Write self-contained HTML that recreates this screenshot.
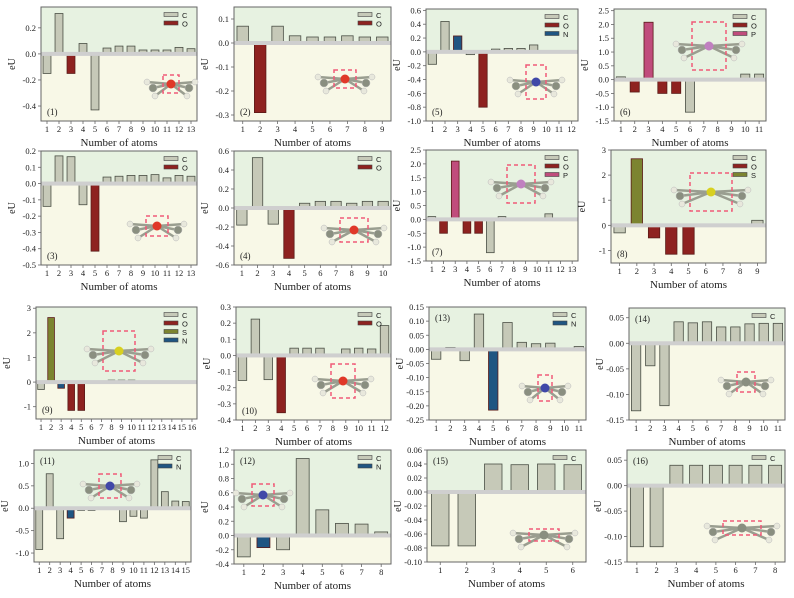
<!DOCTYPE html>
<html><head><meta charset="utf-8"><style>
body{margin:0;background:#fff;}
svg{display:block;font-family:"Liberation Serif",serif;}
</style></head><body>
<svg id="fig" width="794" height="598" viewBox="0 0 794 598"></svg>
<script>
// ---- data ----
const types1=["C","C","O","C","C","C","C","C","C","C","C","C","C"];
const vals1=[-0.15,0.31,-0.15,0.08,-0.43,0.045,0.06,0.06,0.03,0.03,0.03,0.05,0.04];
const types2=["C","O","C","C","C","C","C","C","C"];
const vals2=[0.07,-0.29,0.07,0.03,0.025,0.025,0.03,0.025,0.025];
const types5=["C","C","N","C","O","C","C","C","C","C","C","C"];
const vals5=[-0.18,0.44,0.23,-0.04,-0.80,0.04,0.05,0.05,0.10,0,0,0];
const types6=["C","O","P","O","O","C","C","C","C","C","C"];
const vals6=[0.1,-0.45,2.08,-0.5,-0.5,-1.18,0,0,0,0.2,0.2];
const types3=["C","C","C","C","O","C","C","C","C","C","C","C","C"];
const vals3=[-0.14,0.17,0.165,-0.13,-0.415,0.04,0.045,0.05,0.05,0.055,0.035,0.05,0.045];
const types4=["C","C","C","O","C","C","C","C","C","C"];
const vals4=[-0.18,0.53,-0.17,-0.53,0.05,0.07,0.07,0.05,0.07,0.07];
const types7=["C","O","P","O","O","C","C","C","C","C","C","C","C"];
const vals7=[0.1,-0.5,2.1,-0.5,-0.5,-1.2,0.1,0,0,0,0.2,0,0];
const types8=["C","S","O","O","O","C","C","C","C"];
const vals8=[-0.3,2.65,-0.5,-1.15,-1.15,0.03,0.03,0.03,0.2];
const types9=["C","S","N","O","O","C","C","C","C","C","C","C","C","C","C","C"];
const vals9=[-0.3,2.62,-0.25,-1.15,-1.15,0.02,0.02,0.08,0.08,0.08,0.03,0.03,0.03,0.03,0.03,0.03];
const types10=["C","C","C","O","C","C","C","C","C","C","C","C"];
const vals10=[-0.155,0.225,-0.15,-0.355,0.045,0.045,0.045,0,0.04,0.045,0.04,0.185];
const types13=["C","C","C","C","N","C","C","C","C","C","C"];
const vals13=[-0.035,0.007,-0.04,0.125,-0.215,0.095,0.025,0.02,0.022,0,0.01];
const types14=["C","C","C","C","C","C","C","C","C","C","C"];
const vals14=[-0.132,-0.044,-0.122,0.042,0.04,0.042,0.032,0.032,0.038,0.039,0.039];
const types11=["C","C","C","N","C","C","C","C","C","C","C","C","C","C","C"];
const vals11=[-0.92,0.77,-0.68,-0.22,-0.05,-0.05,0,0.02,-0.3,-0.18,-0.22,1.08,0.37,0.16,0.15];
const types12=["C","N","C","C","C","C","C","C"];
const vals12=[-0.3,-0.17,-0.2,1.08,0.36,0.17,0.16,0.05];
const types15=["C","C","C","C","C","C"];
const vals15=[-0.077,-0.077,0.04,0.039,0.04,0.039];
const types16=["C","C","C","C","C","C","C","C"];
const vals16=[-0.12,-0.12,0.04,0.04,0.04,0.04,0.04,0.04];
const ticks1=[0.2,0.0,-0.2,-0.4], ticks2=[0.1,0.0,-0.1,-0.2,-0.3];
const ticks5=[0.6,0.4,0.2,0.0,-0.2,-0.4,-0.6,-0.8,-1.0], ticks6=[2.5,2.0,1.5,1.0,0.5,0.0,-0.5,-1.0,-1.5];
const ticks3=[0.2,0.1,0.0,-0.1,-0.2,-0.3,-0.4,-0.5], ticks4=[0.6,0.4,0.2,0.0,-0.2,-0.4,-0.6];
const ticks7=[2.5,2.0,1.5,1.0,0.5,0.0,-0.5,-1.0,-1.5], ticks8=[3,2,1,0,-1];
const ticks9=[3,2,1,0,-1], ticks10=[0.3,0.2,0.1,0.0,-0.1,-0.2,-0.3,-0.4];
const ticks13=[0.15,0.10,0.05,0.00,-0.05,-0.10,-0.15,-0.20,-0.25], ticks14=[0.05,0.00,-0.05,-0.10,-0.15];
const ticks11=[1.0,0.5,0.0,-0.5,-1.0], ticks12=[1.2,1.0,0.8,0.6,0.4,0.2,0.0,-0.2,-0.4];
const ticks15=[0.06,0.04,0.02,0.00,-0.02,-0.04,-0.06,-0.08,-0.10], ticks16=[0.05,0.00,-0.05,-0.10,-0.15];

const colors={C:"#c6c9b8",O:"#8e2220",N:"#1f5582",P:"#c04c7c",S:"#7c8430"};
const NS="http://www.w3.org/2000/svg";
const svg=document.getElementById("fig");
function mk(tag,attrs,parent){const e=document.createElementNS(NS,tag);for(const k in attrs)e.setAttribute(k,attrs[k]);(parent||svg).appendChild(e);return e;}

const panels=[
 {n:1,x0:41,x1:197,y0:7,y1:121,ymax:0.36,ymin:-0.515,t:types1,v:vals1,tk:ticks1,d:1,lg:["C","O"],top:false,mol:[163,75,16,18],c:"#e03828"},
 {n:2,x0:234,x1:391,y0:7,y1:121,ymax:0.15,ymin:-0.325,t:types2,v:vals2,tk:ticks2,d:1,lg:["C","O"],top:false,mol:[334,70,22,18],c:"#e03828"},
 {n:5,x0:426,x1:578,y0:9,y1:121,ymax:0.62,ymin:-1.0,t:types5,v:vals5,tk:ticks5,d:1,lg:["C","O","N"],top:false,mol:[526,65,20,34],c:"#4048a8"},
 {n:6,x0:614,x1:766,y0:9,y1:121,ymax:2.56,ymin:-1.5,t:types6,v:vals6,tk:ticks6,d:1,lg:["C","O","P"],top:false,mol:[692,22,34,48],c:"#c080c0"},
 {n:3,x0:41,x1:197,y0:151,y1:265,ymax:0.2,ymin:-0.5,t:types3,v:vals3,tk:ticks3,d:1,lg:["C","O"],top:false,mol:[146,216,22,20],c:"#e03828"},
 {n:4,x0:234,x1:391,y0:151,y1:265,ymax:0.6,ymin:-0.6,t:types4,v:vals4,tk:ticks4,d:1,lg:["C","O"],top:false,mol:[340,218,28,24],c:"#e03828"},
 {n:7,x0:426,x1:578,y0:150,y1:261,ymax:2.5,ymin:-1.5,t:types7,v:vals7,tk:ticks7,d:1,lg:["C","O","P"],top:false,mol:[507,165,28,38],c:"#c080c0"},
 {n:8,x0:611,x1:766,y0:150,y1:263,ymax:3,ymin:-1.5,t:types8,v:vals8,tk:ticks8,d:0,lg:["C","O","S"],top:false,mol:[690,173,42,38],c:"#d8d020"},
 {n:9,x0:36,x1:197,y0:307,y1:419,ymax:3.05,ymin:-1.5,t:types9,v:vals9,tk:ticks9,d:0,lg:["C","O","S","N"],top:false,mol:[103,331,32,40],c:"#d8d020"},
 {n:10,x0:236,x1:391,y0:307,y1:420,ymax:0.3,ymin:-0.4,t:types10,v:vals10,tk:ticks10,d:1,lg:["C","O"],top:false,mol:[331,364,24,34],c:"#e03828"},
 {n:13,x0:429,x1:586,y0:307,y1:420,ymax:0.15,ymin:-0.25,t:types13,v:vals13,tk:ticks13,d:2,lg:["C","N"],top:true,mol:[538,375,14,26],c:"#4048a8"},
 {n:14,x0:629,x1:785,y0:308,y1:420,ymax:0.069,ymin:-0.15,t:types14,v:vals14,tk:ticks14,d:2,lg:["C"],top:true,mol:[737,372,18,20],c:"#8a8f80"},
 {n:11,x0:34,x1:191,y0:450,y1:562,ymax:1.3,ymin:-1.2,t:types11,v:vals11,tk:ticks11,d:1,lg:["C","N"],top:true,mol:[99,474,22,24],c:"#4048a8"},
 {n:12,x0:234,x1:391,y0:450,y1:564,ymax:1.2,ymin:-0.4,t:types12,v:vals12,tk:ticks12,d:1,lg:["C","N"],top:true,mol:[252,484,22,22],c:"#4048a8"},
 {n:15,x0:427,x1:586,y0:450,y1:562,ymax:0.06,ymin:-0.1,t:types15,v:vals15,tk:ticks15,d:2,lg:["C"],top:true,mol:[529,529,30,12],c:"#8a8f80"},
 {n:16,x0:627,x1:785,y0:450,y1:562,ymax:0.07,ymin:-0.15,t:types16,v:vals16,tk:ticks16,d:2,lg:["C"],top:true,mol:[723,521,38,14],c:"#8a8f80"}
];

panels.forEach(p=>{
 const g=mk("g",{});
 
 
 const Y=v=>p.y0+(p.ymax-v)/(p.ymax-p.ymin)*(p.y1-p.y0);
 const N=p.v.length, slot=(p.x1-p.x0)/N;
 const X=i=>p.x0+slot*(i+0.5);
 const y0=Y(0);
 mk("rect",{x:p.x0,y:p.y0,width:p.x1-p.x0,height:y0-p.y0,fill:"#e7f2e1"},g);
 mk("rect",{x:p.x0,y:y0,width:p.x1-p.x0,height:p.y1-y0,fill:"#f8f8e7"},g);
 p.v.forEach((v,i)=>{
  const bw=slot*0.66, ya=Y(v);
  const top=Math.min(ya,y0), h=Math.abs(ya-y0);
  const r=mk("rect",{x:X(i)-bw/2,y:top,width:bw,height:Math.max(h,0.5),fill:colors[p.t[i]],stroke:p.t[i]==="C"?"#4a4f45":"#5a1a18","stroke-width":0.8},g);
  
  
 });
 mk("rect",{x:p.x0,y:y0-2,width:p.x1-p.x0,height:4,fill:"#cfcfcf"},g);
 mk("rect",{x:p.x0,y:p.y0,width:p.x1-p.x0,height:p.y1-p.y0,fill:"none",stroke:"#666","stroke-width":1},g);
 p.tk.forEach(t=>{
  const y=Y(t);
  mk("line",{x1:p.x0-3,x2:p.x0,y1:y,y2:y,stroke:"#666","stroke-width":0.8},g);
  const tx=mk("text",{x:p.x0-5,y:y+3,"font-size":8.5,"text-anchor":"end",fill:"#222"},g);
  tx.textContent=t.toFixed(p.d);
  
  
 });
 for(let i=0;i<N;i++){
  mk("line",{x1:X(i),x2:X(i),y1:p.y1,y2:p.y1+3,stroke:"#666","stroke-width":0.8},g);
  const tx=mk("text",{x:X(i),y:p.y1+11,"font-size":8.5,"text-anchor":"middle",fill:"#222"},g);
  tx.textContent=String(i+1);
  
  
 }
 const xt=mk("text",{x:(p.x0+p.x1)/2,y:p.y1+25,"font-size":11,"text-anchor":"middle",fill:"#222"},g);
 xt.textContent="Number of atoms";
 
 
 const yt=mk("text",{x:0,y:0,"font-size":10,"text-anchor":"middle",fill:"#222",transform:`translate(${p.x0-26},${(p.y0+p.y1)/2}) rotate(-90)`},g);
 yt.textContent="eU";
 
 
 const lb=mk("text",{x:p.x0+6,y:p.top?p.y0+14:p.y1-6,"font-size":9,fill:"#222"},g);
 lb.textContent="("+p.n+")";
 
 
 p.lg.forEach((k,j)=>{
  const ly=p.y0+8+j*8.5;
  mk("rect",{x:p.x1-33,y:ly-2.5,width:14,height:4,fill:colors[k],stroke:"#444","stroke-width":0.6},g);
  const lt=mk("text",{x:p.x1-15,y:ly+3,"font-size":7.5,fill:"#222","font-family":"Liberation Sans, sans-serif"},g);
  lt.textContent=k;
  
  
 });
 // molecule sketch
 const m=p.mol, cx=m[0]+m[2]/2, cy=m[1]+m[3]/2;
 const mol=mk("g",{},g);
 
 
 const atoms=[[-m[2]/2-10,4],[m[2]/2+10,4],[-m[2]/2-16,-2],[m[2]/2+16,-2],[-m[2]/2-8,12],[m[2]/2+8,12]];
 atoms.forEach(a=>mk("line",{x1:cx,y1:cy,x2:cx+a[0],y2:cy+a[1],stroke:"#9a9e90","stroke-width":2.5},mol));
 atoms.forEach((a,k)=>mk("circle",{cx:cx+a[0],cy:cy+a[1],r:k<2?4:3,fill:k<2?"#8a8f80":"#e8e8dc",stroke:"#bbb","stroke-width":0.5},mol));
 mk("circle",{cx:cx,cy:cy,r:4.5,fill:p.c},mol);
 const mr=mk("rect",{x:m[0],y:m[1],width:m[2],height:m[3],fill:"none",stroke:"#f05a78","stroke-width":1.5,"stroke-dasharray":"4,3"},g);
 
 
});
</script>
</body></html>
